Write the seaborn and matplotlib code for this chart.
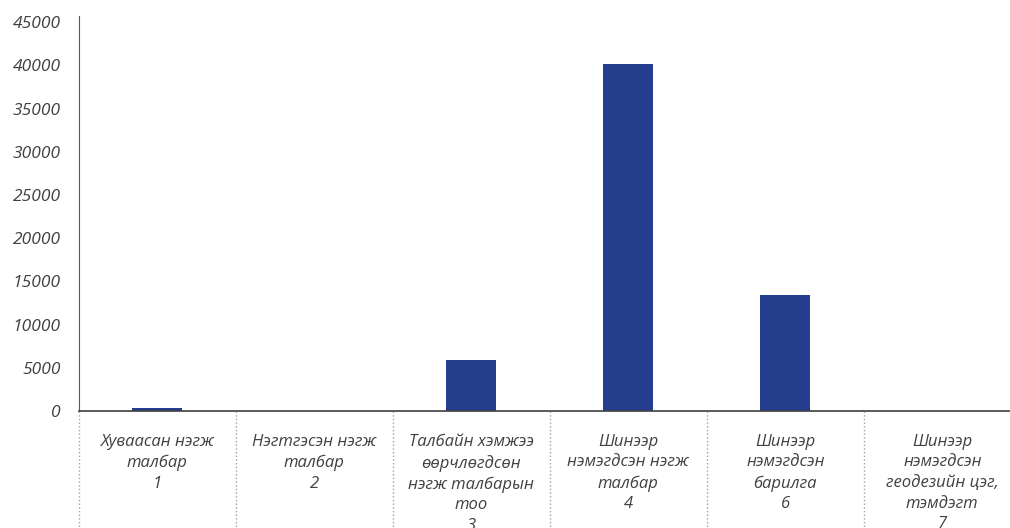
import matplotlib
matplotlib.use("Agg")
import pandas as pd
import seaborn as sns
import matplotlib.pyplot as plt

# data
categories = [
    "Хуваасан нэгж\nталбар\n1",
    "Нэгтгэсэн нэгж\nталбар\n2",
    "Талбайн хэмжээ\nөөрчлөгдсөн\nнэгж талбарын\nтоо\n3",
    "Шинээр\nнэмэгдсэн нэгж\nталбар\n4",
    "Шинээр\nнэмэгдсэн\nбарилга\n6",
    "Шинээр\nнэмэгдсэн\nгеодезийн цэг,\nтэмдэгт\n7",
]
values = [380, 0, 5900, 40200, 13400, 0]
yticks = [0, 5000, 10000, 15000, 20000, 25000, 30000, 35000, 40000, 45000]

sns.set_style("white")
plt.rcParams["font.family"] = ["Open Sans", "DejaVu Sans"]
plt.rcParams["font.style"] = "italic"

df = pd.DataFrame({"cat": categories, "val": values})

fig = plt.figure(figsize=(10.1, 5.28), dpi=100)
# the plot area runs a bit past the right edge, as in the original
ax = fig.add_axes([0.078, 0.2216, 0.9327, 0.748])

sns.barplot(data=df, x="cat", y="val", color="#253F8E", width=0.32,
            saturation=1, linewidth=0, ax=ax)

ax.set_ylim(0, 45700)
ax.set_xlim(-0.5, len(categories) - 0.5)
ax.set_yticks(yticks)
ax.set_yticklabels([str(v) for v in yticks], fontstyle="italic")
ax.set_xticks(range(len(categories)))
ax.set_xticklabels(categories, fontstyle="italic", linespacing=1.38,
                   va="top")
ax.set_xlabel("")
ax.set_ylabel("")

txt = "#404040"
ax.tick_params(axis="y", length=0, pad=13, labelsize=12.5, labelcolor=txt)
ax.tick_params(axis="x", length=0, pad=16.5, labelsize=12, labelcolor=txt)

sns.despine(ax=ax, top=True, right=True)
ax.spines["left"].set_color("#595959")
ax.spines["bottom"].set_color("#404040")
ax.spines["bottom"].set_linewidth(1.2)

# dotted separators between categories below the axis
for i in range(len(categories)):
    ax.plot([i - 0.5, i - 0.5], [0, -0.32], transform=ax.get_xaxis_transform(),
            color="#a0a0a0", linestyle=":", linewidth=1, clip_on=False)

fig.savefig("out.png", dpi=100)
